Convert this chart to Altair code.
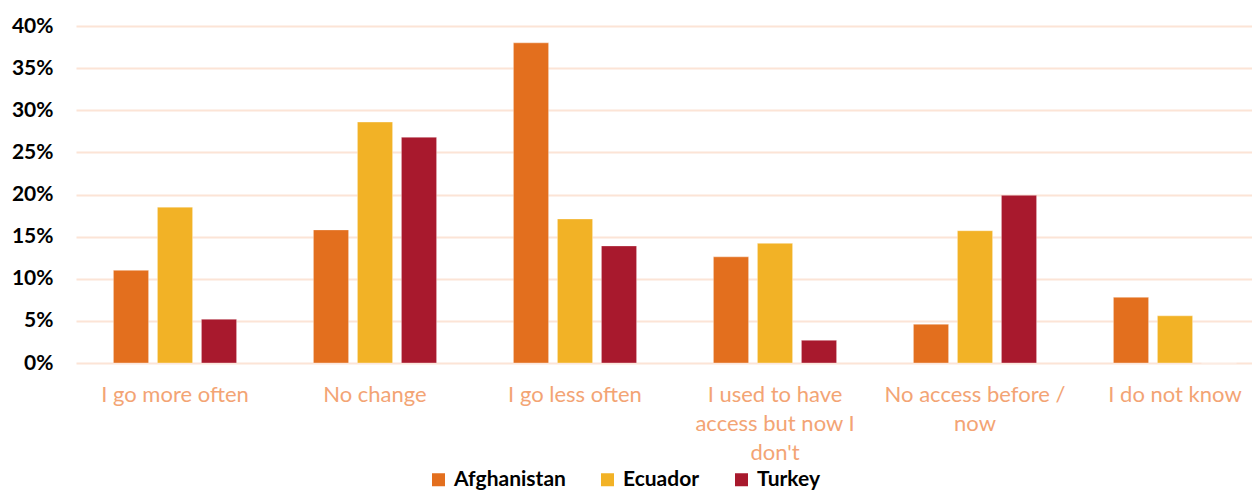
import altair as alt
import pandas as pd

categories = ["I go more often", "No change", "I go less often",
              "I used to have access but now I don't", "No access before / now",
              "I do not know"]
category_labels = ["I go more often", "No change", "I go less often",
                   "I used to have|access but now I|don't", "No access before /|now",
                   "I do not know"]
countries = ["Afghanistan", "Ecuador", "Turkey"]
afghanistan = [0.110, 0.158, 0.380, 0.126, 0.046, 0.078]
ecuador = [0.185, 0.286, 0.171, 0.142, 0.157, 0.056]
turkey = [0.052, 0.268, 0.139, 0.027, 0.199, 0.0]
colors = ["#E36F1E", "#F2B226", "#A8192D"]

rows = []
for i, c in enumerate(categories):
    for country, vals in zip(countries, [afghanistan, ecuador, turkey]):
        rows.append({"category": category_labels[i], "country": country, "value": vals[i]})
df = pd.DataFrame(rows)

chart = alt.Chart(df).mark_bar(stroke="white", strokeOpacity=0.35, strokeWidth=1).encode(
    x=alt.X("category:N", sort=category_labels,
            scale=alt.Scale(paddingInner=0.34, paddingOuter=0.11, align=0.75),
            axis=alt.Axis(title=None, labelAngle=0, domain=False, ticks=False,
                          labelColor="#F3A474", labelFont="Lato", labelFontSize=22,
                          labelPadding=21, labelLineHeight=29,
                          labelExpr="split(datum.label, '|')", labelLimit=300)),
    xOffset=alt.XOffset("country:N", sort=countries,
                        scale=alt.Scale(paddingInner=0.2, paddingOuter=0.1)),
    y=alt.Y("value:Q", scale=alt.Scale(domain=[0, 0.4]),
            axis=alt.Axis(title=None, format=".0%", values=[0, 0.05, 0.1, 0.15, 0.2, 0.25, 0.3, 0.35, 0.4],
                          domain=False, ticks=False, labelFont="Lato", labelFontSize=21,
                          labelFontWeight="bold", labelColor="black", labelPadding=23,
                          gridColor="#FCE4D6", gridWidth=2)),
    color=alt.Color("country:N", sort=countries,
                    scale=alt.Scale(domain=countries, range=colors),
                    legend=alt.Legend(title=None, orient="none", direction="horizontal",
                                      legendX=352, legendY=443, symbolType="square",
                                      symbolSize=169, symbolStrokeWidth=0, labelFont="Lato",
                                      labelFontSize=21, labelFontWeight="bold", labelColor="black",
                                      labelOffset=5, columnPadding=31)),
).properties(
    width=1176, height=337,
    autosize=alt.AutoSizeParams(type="none"),
    padding={"left": 68, "top": 18, "right": 0, "bottom": 130},
).configure_view(stroke=None)

chart.save("out.html", embed_options={"renderer": "svg", "actions": False})
